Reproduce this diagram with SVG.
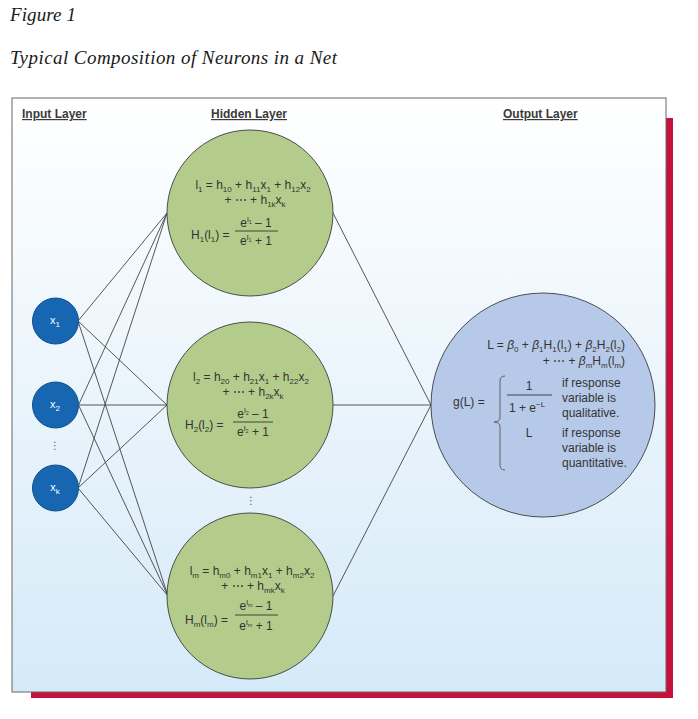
<svg xmlns="http://www.w3.org/2000/svg" width="698" height="719" viewBox="0 0 698 719">
<defs>
<linearGradient id="bg" x1="0" y1="0" x2="0" y2="1">
<stop offset="0" stop-color="#ffffff"/>
<stop offset="1" stop-color="#d5eaf8"/>
</linearGradient>
<style>
.title{font-family:"Liberation Serif","Times New Roman",serif;font-style:italic;font-size:19px;fill:#1a1a1a}
.hdr{font-family:"Liberation Sans",Arial,sans-serif;font-weight:bold;font-size:12px;fill:#3a3a3a;text-decoration:underline}
.eq{font-family:"Liberation Sans",Arial,sans-serif;font-size:12px;fill:#333}
.tx{font-family:"Liberation Sans",Arial,sans-serif;font-size:12px;fill:#333}
.s{font-size:8px}
.p{font-size:8px}
.q{font-size:5.5px}
.it{font-style:italic}
.hid{fill:#b4cc8b;stroke:#3c3c3c;stroke-width:0.9}
.out{fill:#b7c9e8;stroke:#3c3c3c;stroke-width:0.9}
.inp{fill:#1666b2;stroke:#0e4f8f;stroke-width:1}
.lbl{font-family:"Liberation Sans",Arial,sans-serif;font-size:11px;fill:#ffffff}
.bar{stroke:#333;stroke-width:0.9}
.conn line{stroke:#444;stroke-width:0.9}
.dots{font-family:"DejaVu Sans",sans-serif;font-size:10px;fill:#555}
</style>
</defs>

<text class="title" x="10" y="21" textLength="66" lengthAdjust="spacing">Figure 1</text>
<text class="title" x="10" y="64" textLength="327" lengthAdjust="spacing">Typical Composition of Neurons in a Net</text>

<rect x="31" y="118" width="642" height="580" fill="#c8103c"/>
<rect x="12" y="98" width="654" height="594" fill="url(#bg)" stroke="#666" stroke-width="1"/>

<text class="hdr" x="22" y="118">Input Layer</text>
<text class="hdr" x="211" y="118">Hidden Layer</text>
<text class="hdr" x="503" y="118">Output Layer</text>

<g id="connectors" class="conn">
<line x1="78" y1="321" x2="167" y2="213"/>
<line x1="78" y1="321" x2="167" y2="405"/>
<line x1="78" y1="321" x2="168" y2="596"/>
<line x1="78.5" y1="405" x2="167" y2="213"/>
<line x1="78.5" y1="405" x2="167" y2="405"/>
<line x1="78.5" y1="405" x2="168" y2="596"/>
<line x1="78" y1="488" x2="167" y2="213"/>
<line x1="78" y1="488" x2="167" y2="405"/>
<line x1="78" y1="488" x2="168" y2="596"/>
<line x1="333" y1="213" x2="431" y2="405"/>
<line x1="333" y1="405" x2="431" y2="405"/>
<line x1="333" y1="596" x2="431" y2="405"/>
</g>

<g id="input1">
<circle cx="55.5" cy="321" r="23" class="inp"/>
<text class="lbl" x="55" y="324" text-anchor="middle">x<tspan class="s" dy="3">1</tspan></text>
</g>
<g id="input2">
<circle cx="55.5" cy="405" r="23" class="inp"/>
<text class="lbl" x="55" y="408" text-anchor="middle">x<tspan class="s" dy="3">2</tspan></text>
</g>
<text class="dots" x="55" y="449" text-anchor="middle">⋮</text>
<g id="inputk">
<circle cx="55.5" cy="488" r="23" class="inp"/>
<text class="lbl" x="55" y="491" text-anchor="middle">x<tspan class="s" dy="3">k</tspan></text>
</g>

<g id="hidden1">
<circle cx="250" cy="213" r="83" class="hid"/>
<text class="eq" x="253" y="189" text-anchor="middle">l<tspan class="s" dy="2.5">1</tspan><tspan dy="-2.5"> = h</tspan><tspan class="s" dy="2.5">10</tspan><tspan dy="-2.5"> + h</tspan><tspan class="s" dy="2.5">11</tspan><tspan dy="-2.5">x</tspan><tspan class="s" dy="2.5">1</tspan><tspan dy="-2.5"> + h</tspan><tspan class="s" dy="2.5">12</tspan><tspan dy="-2.5">x</tspan><tspan class="s" dy="2.5">2</tspan></text>
<text class="eq" x="255" y="204" text-anchor="middle">+ ⋯ + h<tspan class="s" dy="2.5">1k</tspan><tspan dy="-2.5">x</tspan><tspan class="s" dy="2.5">k</tspan></text>
<text class="eq" x="191" y="239">H<tspan class="s" dy="2.5">1</tspan><tspan dy="-2.5">(l</tspan><tspan class="s" dy="2.5">1</tspan><tspan dy="-2.5">) =</tspan></text>
<text class="eq" x="256" y="227" text-anchor="middle">e<tspan class="p" dy="-5">l</tspan><tspan class="q" dy="2">1</tspan><tspan dy="3"> – 1</tspan></text>
<line class="bar" x1="235" y1="231" x2="278" y2="231"/>
<text class="eq" x="256" y="245" text-anchor="middle">e<tspan class="p" dy="-5">l</tspan><tspan class="q" dy="2">1</tspan><tspan dy="3"> + 1</tspan></text>
</g>

<g id="hidden2">
<circle cx="250" cy="405" r="83" class="hid"/>
<text class="eq" x="251" y="381" text-anchor="middle">l<tspan class="s" dy="2.5">2</tspan><tspan dy="-2.5"> = h</tspan><tspan class="s" dy="2.5">20</tspan><tspan dy="-2.5"> + h</tspan><tspan class="s" dy="2.5">21</tspan><tspan dy="-2.5">x</tspan><tspan class="s" dy="2.5">1</tspan><tspan dy="-2.5"> + h</tspan><tspan class="s" dy="2.5">22</tspan><tspan dy="-2.5">x</tspan><tspan class="s" dy="2.5">2</tspan></text>
<text class="eq" x="253" y="396" text-anchor="middle">+ ⋯ + h<tspan class="s" dy="2.5">2k</tspan><tspan dy="-2.5">x</tspan><tspan class="s" dy="2.5">k</tspan></text>
<text class="eq" x="185" y="429">H<tspan class="s" dy="2.5">2</tspan><tspan dy="-2.5">(l</tspan><tspan class="s" dy="2.5">2</tspan><tspan dy="-2.5">) =</tspan></text>
<text class="eq" x="253" y="418" text-anchor="middle">e<tspan class="p" dy="-5">l</tspan><tspan class="q" dy="2">2</tspan><tspan dy="3"> – 1</tspan></text>
<line class="bar" x1="233" y1="422" x2="273" y2="422"/>
<text class="eq" x="253" y="436" text-anchor="middle">e<tspan class="p" dy="-5">l</tspan><tspan class="q" dy="2">2</tspan><tspan dy="3"> + 1</tspan></text>
</g>

<text class="dots" x="251" y="504" text-anchor="middle">⋮</text>

<g id="hiddenm">
<circle cx="250" cy="596" r="83" class="hid"/>
<text class="eq" x="252" y="575" text-anchor="middle">l<tspan class="s" dy="2.5">m</tspan><tspan dy="-2.5"> = h</tspan><tspan class="s" dy="2.5">m0</tspan><tspan dy="-2.5"> + h</tspan><tspan class="s" dy="2.5">m1</tspan><tspan dy="-2.5">x</tspan><tspan class="s" dy="2.5">1</tspan><tspan dy="-2.5"> + h</tspan><tspan class="s" dy="2.5">m2</tspan><tspan dy="-2.5">x</tspan><tspan class="s" dy="2.5">2</tspan></text>
<text class="eq" x="253" y="590" text-anchor="middle">+ ⋯ + h<tspan class="s" dy="2.5">mk</tspan><tspan dy="-2.5">x</tspan><tspan class="s" dy="2.5">k</tspan></text>
<text class="eq" x="185" y="624">H<tspan class="s" dy="2.5">m</tspan><tspan dy="-2.5">(l</tspan><tspan class="s" dy="2.5">m</tspan><tspan dy="-2.5">) =</tspan></text>
<text class="eq" x="256" y="610" text-anchor="middle">e<tspan class="p" dy="-5">l</tspan><tspan class="q" dy="2">m</tspan><tspan dy="3"> – 1</tspan></text>
<line class="bar" x1="235" y1="615" x2="278" y2="615"/>
<text class="eq" x="256" y="630" text-anchor="middle">e<tspan class="p" dy="-5">l</tspan><tspan class="q" dy="2">m</tspan><tspan dy="3"> + 1</tspan></text>
</g>

<g id="output">
<circle cx="543" cy="405" r="112" class="out"/>
<text class="eq" x="625" y="349" text-anchor="end">L = <tspan class="it">β</tspan><tspan class="s" dy="2.5">0</tspan><tspan dy="-2.5"> + </tspan><tspan class="it">β</tspan><tspan class="s" dy="2.5">1</tspan><tspan dy="-2.5">H</tspan><tspan class="s" dy="2.5">1</tspan><tspan dy="-2.5">(l</tspan><tspan class="s" dy="2.5">1</tspan><tspan dy="-2.5">) + </tspan><tspan class="it">β</tspan><tspan class="s" dy="2.5">2</tspan><tspan dy="-2.5">H</tspan><tspan class="s" dy="2.5">2</tspan><tspan dy="-2.5">(l</tspan><tspan class="s" dy="2.5">2</tspan><tspan dy="-2.5">)</tspan></text>
<text class="eq" x="625" y="365" text-anchor="end">+ ⋯ + <tspan class="it">β</tspan><tspan class="s" dy="2.5">m</tspan><tspan dy="-2.5">H</tspan><tspan class="s" dy="2.5">m</tspan><tspan dy="-2.5">(l</tspan><tspan class="s" dy="2.5">m</tspan><tspan dy="-2.5">)</tspan></text>
<text class="eq" x="453" y="406">g(L) =</text>
<path d="M505,376 q-5,0 -5,5 L500,417 q0,5 -6,5 q6,0 6,5 L500,465 q0,5 5,5" fill="none" stroke="#555" stroke-width="0.9"/>
<text class="eq" x="529" y="390" text-anchor="middle">1</text>
<line class="bar" x1="507" y1="395" x2="552" y2="395"/>
<text class="eq" x="527" y="412" text-anchor="middle">1 + e<tspan class="p" dy="-5">−L</tspan></text>
<text class="eq" x="529" y="437" text-anchor="middle">L</text>
<text class="tx" x="562" y="387">if response</text>
<text class="tx" x="562" y="402">variable is</text>
<text class="tx" x="562" y="417">qualitative.</text>
<text class="tx" x="562" y="437">if response</text>
<text class="tx" x="562" y="452">variable is</text>
<text class="tx" x="562" y="467">quantitative.</text>
</g>
</svg>
